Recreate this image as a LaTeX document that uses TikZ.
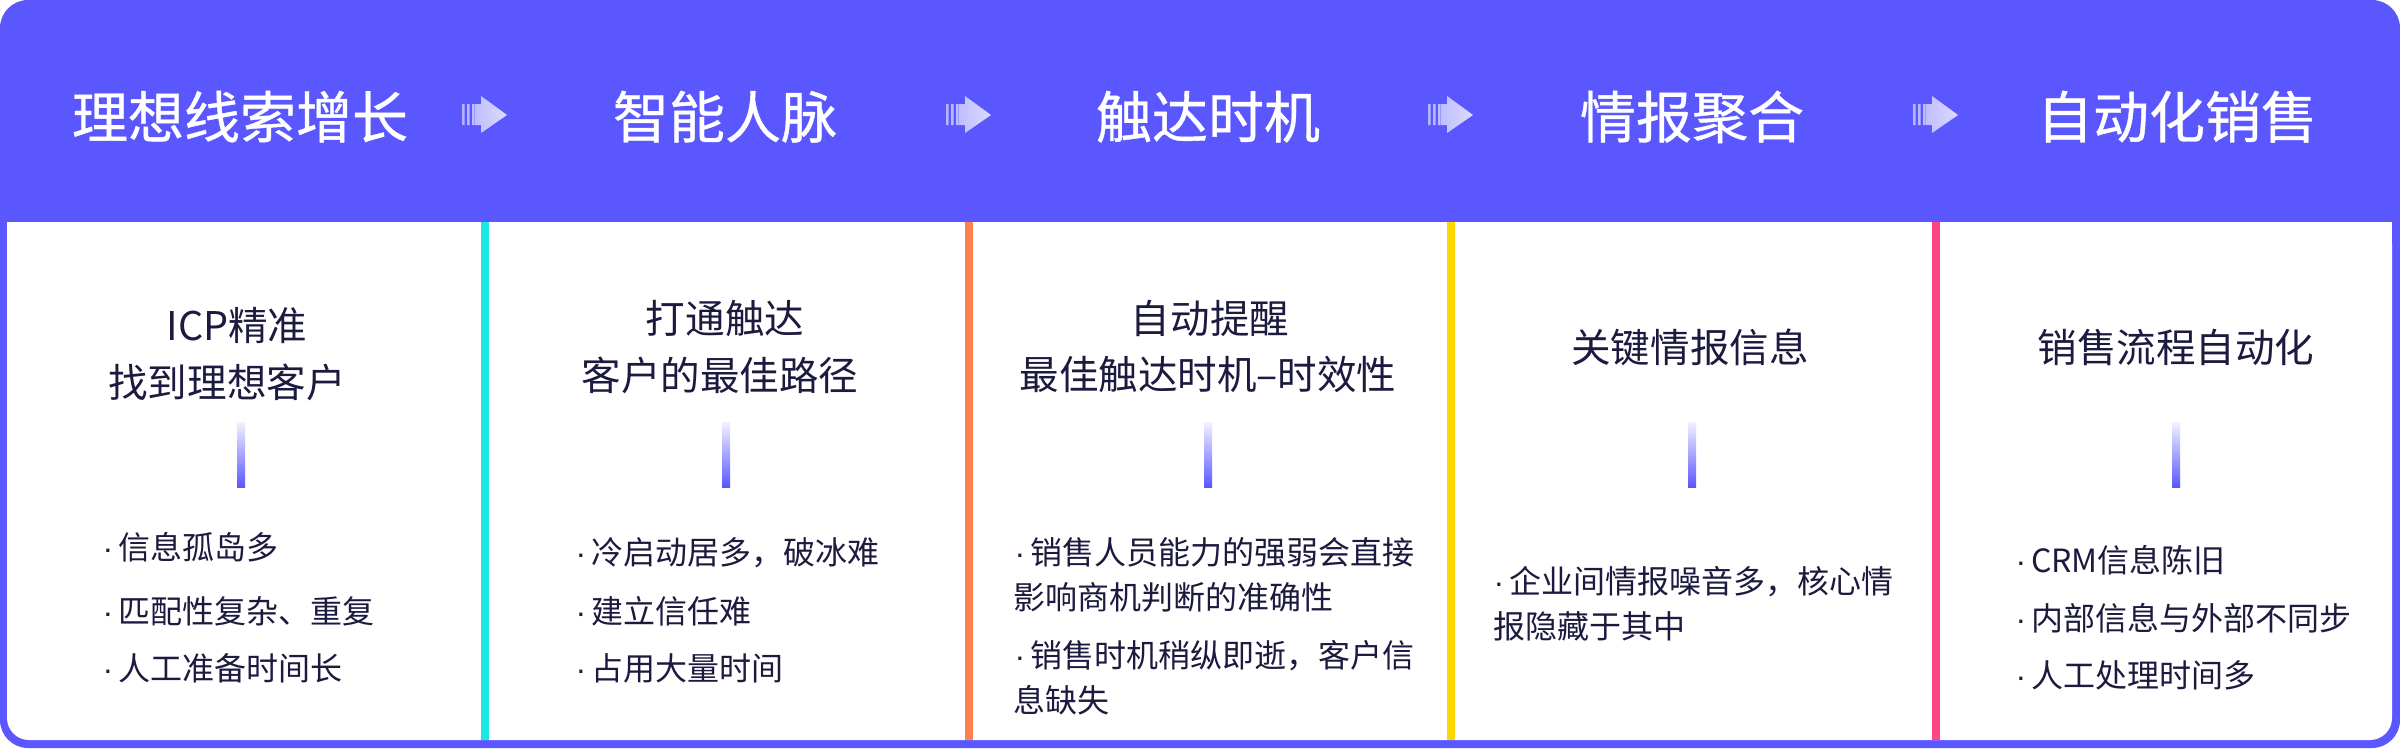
\documentclass[tikz,border=0pt]{standalone}
\usepackage{fontspec}
\setmainfont{Noto Sans CJK SC}
\newfontfamily\headfont{Noto Sans CJK SC}[FakeBold=0.7]
\newfontfamily\dotfont{Liberation Sans}
\newcommand\bdot{{\dotfont ·}\kern0.15em\relax}
\definecolor{hb}{HTML}{5B57FF}
\definecolor{inkc}{HTML}{1C1A3E}
\definecolor{cyanc}{HTML}{1AE8E6}
\definecolor{orangec}{HTML}{FF7F4F}
\definecolor{yellowc}{HTML}{FFD700}
\definecolor{pinkc}{HTML}{FF4582}
\begin{document}
\begin{tikzpicture}[x=0.01cm,y=-0.01cm,
  head/.style={font=\headfont\fontsize{15.93}{19}\selectfont, text=white, inner sep=0pt, anchor=base},
  sub/.style={font=\fontsize{11.24}{13}\selectfont, text=inkc, inner sep=0pt, anchor=base},
  bul/.style={font=\fontsize{9.1}{11}\selectfont, text=inkc, inner sep=0pt, anchor=base west},
  gbar/.style={top color=hb!8!white, bottom color=hb},
  flowarr/.pic={
    \shade[left color=hb!45!white, right color=hb!22!white]
      (-23,-11) rectangle (-20.4,10)
      (-18,-11) rectangle (-15.4,10)
      (-13,-11) rectangle (-10.4,10)
      (-10,-11) -- (-4,-11) -- (-4,-19) -- (22,0) -- (-4,18) -- (-4,10) -- (-10,10) -- cycle;
  }]
\useasboundingbox (0,0) rectangle (2400,748);
% frame
\fill[hb, rounded corners=0.28cm] (0,0) rectangle (2400,748);
\fill[white, rounded corners=0.22cm] (7,222) rectangle (2392,740);
\fill[white] (7,222) rectangle (2392,300);
% dividers
\fill[cyanc] (481,222) rectangle (489,740);
\fill[orangec] (965,222) rectangle (973,740);
\fill[yellowc] (1447,222) rectangle (1455,740);
\fill[pinkc] (1932,222) rectangle (1940,740);
% arrows
\pic at (485,115) {flowarr};
\pic at (969,115) {flowarr};
\pic at (1451,115) {flowarr};
\pic at (1936,115) {flowarr};
% headers
\node[head] (h1) at (240,138) {理想线索增长};
\node[head] (h2) at (725,138) {智能人脉};
\node[head] (h3) at (1208,138) {触达时机};
\node[head] (h4) at (1692,138) {情报聚合};
\node[head] (h5) at (2177,138) {自动化销售};
% subtitles
\node[sub] (s1a) at (237,340) {ICP精准};
\node[sub] (s1b) at (227,397) {找到理想客户};
\node[sub] (s2a) at (725,333) {打通触达};
\node[sub] (s2b) at (720,390) {客户的最佳路径};
\node[sub] (s3a) at (1210,333) {自动提醒};
\node[sub] (s3b) at (1208,389) {最佳触达时机–时效性};
\node[sub] (s4a) at (1690,362) {关键情报信息};
\node[sub] (s5a) at (2176,362) {销售流程自动化};
% gradient bars
\shade[gbar] (237,422) rectangle (245,487);
\shade[gbar] (722,422) rectangle (730,487);
\shade[gbar] (1204,422) rectangle (1212,487);
\shade[gbar] (1688,422) rectangle (1696,487);
\shade[gbar] (2172,422) rectangle (2180,487);
% bullets
\node[bul] (b1a) at (102,559) {\bdot 信息孤岛多};
\node[bul] (b1b) at (102,623) {\bdot 匹配性复杂、重复};
\node[bul] (b1c) at (102,680) {\bdot 人工准备时间长};
\node[bul] (b2a) at (575,564) {\bdot 冷启动居多，破冰难};
\node[bul] (b2b) at (575,623) {\bdot 建立信任难};
\node[bul] (b2c) at (575,680) {\bdot 占用大量时间};
\node[bul] (b3a) at (1014,564) {\bdot 销售人员能力的强弱会直接};
\node[bul] (b3b) at (1013,609) {影响商机判断的准确性};
\node[bul] (b3c) at (1014,667) {\bdot 销售时机稍纵即逝，客户信};
\node[bul] (b3d) at (1013,712) {息缺失};
\node[bul] (b4a) at (1493,593) {\bdot 企业间情报噪音多，核心情};
\node[bul] (b4b) at (1493,638) {报隐藏于其中};
\node[bul] (b5a) at (2015,572) {\bdot CRM信息陈旧};
\node[bul] (b5b) at (2015,630) {\bdot 内部信息与外部不同步};
\node[bul] (b5c) at (2015,687) {\bdot 人工处理时间多};
\end{tikzpicture}
\end{document}
